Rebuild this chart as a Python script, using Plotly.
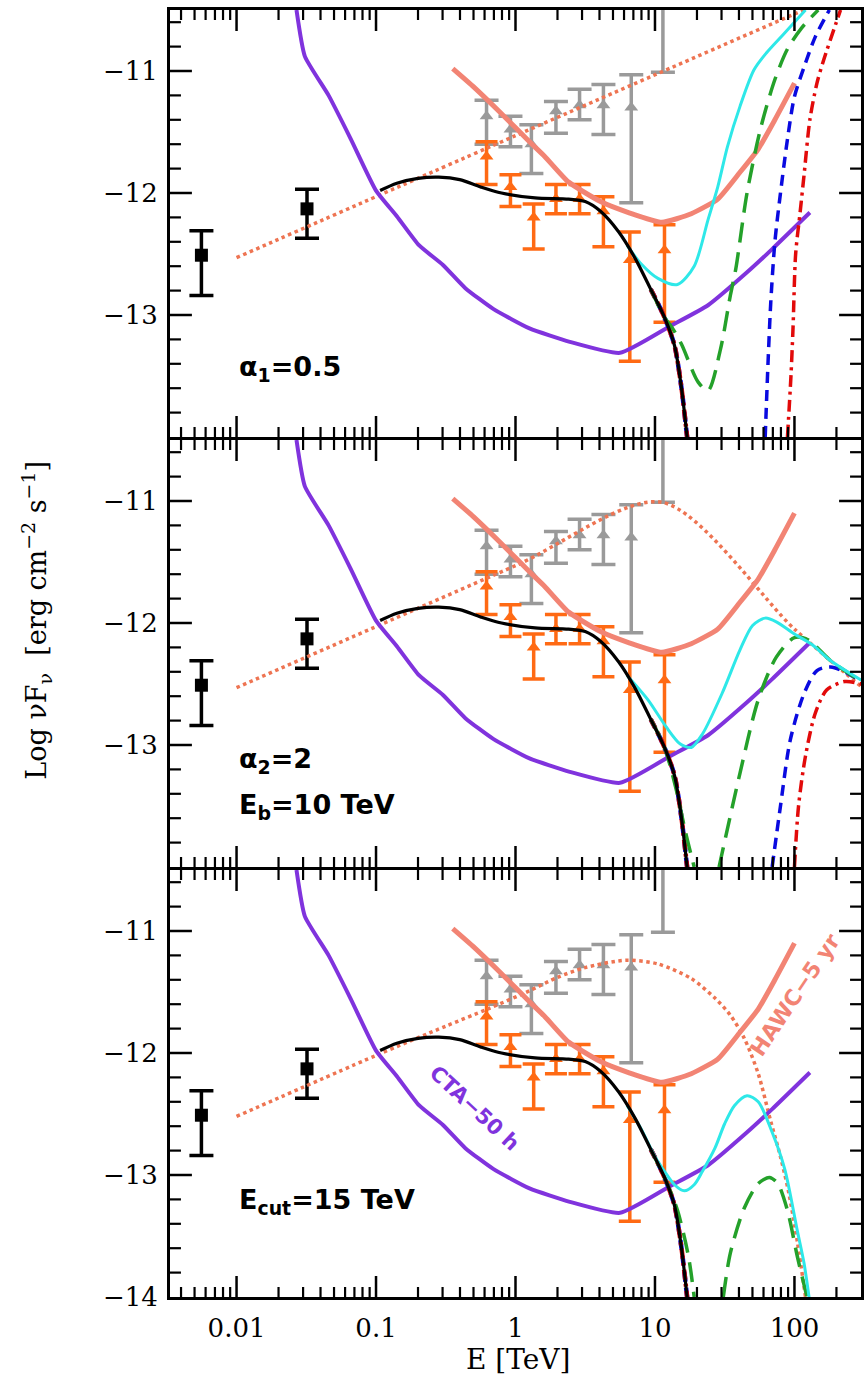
import math
import plotly.graph_objects as go
from plotly.subplots import make_subplots

# ---------------- data (E in TeV, values are log10 nuFnu) ----------------
xray_E = [0.0056, 0.032]
xray_y = [-12.51, -12.13]
xray_top = [-12.31, -11.97]
xray_bot = [-12.84, -12.37]

gray_E = [0.62, 0.92, 1.30, 1.95, 2.88, 4.27, 6.76, 11.4]
gray_y = [-11.37, -11.48, -11.60, -11.33, -11.28, -11.28, -11.30, -10.30]
gray_top = [-11.24, -11.37, -11.44, -11.25, -11.15, -11.11, -11.03, -10.20]
gray_bot = [-11.60, -11.62, -11.84, -11.51, -11.40, -11.52, -12.08, -11.01]

orange_E = [0.62, 0.92, 1.35, 1.95, 2.88, 4.27, 6.6, 11.7]
orange_y = [-11.70, -11.95, -12.20, -12.05, -12.05, -12.15, -12.55, -12.47]
orange_top = [-11.58, -11.85, -12.09, -11.93, -11.93, -12.03, -12.32, -12.26]
orange_bot = [-11.93, -12.11, -12.46, -12.17, -12.17, -12.44, -13.38, -13.06]

cta_E = [0.0269, 0.0309, 0.0457, 0.0661, 0.100, 0.141, 0.204, 0.302, 0.437, 0.692,
         1.26, 2.45, 5.62, 12.9, 24.0, 45.7, 69.2, 129]
cta_y = [-10.50, -10.88, -11.20, -11.56, -11.98, -12.19, -12.43, -12.59, -12.78, -12.95,
         -13.11, -13.22, -13.31, -13.09, -12.92, -12.65, -12.46, -12.16]

hawc_E = [0.355, 0.501, 0.794, 1.26, 1.62, 2.40, 4.07, 6.46, 11.2, 18.2, 28.2, 40.7, 55.0, 72.4, 100]
hawc_y = [-10.98, -11.13, -11.35, -11.58, -11.70, -11.91, -12.07, -12.16, -12.24, -12.17,
          -12.05, -11.83, -11.64, -11.40, -11.10]

model_E = [0.107, 0.141, 0.200, 0.282, 0.398, 0.562, 0.794, 1.38, 2.40, 3.16, 4.07, 5.50,
           7.24, 9.33, 11.7, 13.8, 15.5, 17.0, 17.8]
model_y = [-11.98, -11.92, -11.88, -11.87, -11.89, -11.95, -12.00, -12.04, -12.05, -12.07,
           -12.15, -12.32, -12.54, -12.79, -13.02, -13.25, -13.60, -14.0, -14.2]

tail_E = [9.33, 11.7, 13.8, 15.5, 17.0, 17.8]
tail_y = [-12.79, -13.02, -13.25, -13.60, -14.0, -14.2]

# injected spectra (dotted)
inj1_E = [0.01, 1.0, 140]
inj1_y = [-12.53, -11.53, -10.46]
inj2_E = [0.01, 1.0, 11.2, 100, 300]
inj2_y = [-12.53, -11.53, -11.01, -12.05, -12.52]
inj3_E = [0.01, 0.1, 0.316, 0.631, 1.26, 2.0, 3.16, 6.17, 10.5, 18.2, 26.9, 34.7, 43.7,
          55.0, 67.6, 79.4, 91.2, 105, 120]
inj3_y = [-12.52, -12.02, -11.78, -11.64, -11.49, -11.38, -11.30, -11.24, -11.27, -11.39,
          -11.55, -11.69, -11.88, -12.17, -12.56, -12.85, -13.15, -13.55, -14.0]

# panel 1 (alpha1 = 0.5)
cyan1_E = [6.31, 7.94, 10.5, 14.5, 19.1, 24.0, 28.2, 33.1, 40.7, 51.3, 63.1, 83.2, 120]
cyan1_y = [-12.43, -12.58, -12.70, -12.75, -12.60, -12.22, -11.95, -11.62, -11.29, -10.99,
           -10.85, -10.70, -10.50]
green1_E = [9.33, 11.7, 13.2, 15.5, 20.4, 24.0, 29.5, 34.7, 38.0, 45.7, 57.5, 72.4, 89.1, 112, 148]
green1_y = [-12.79, -13.02, -13.10, -13.24, -13.55, -13.62, -13.28, -12.84, -12.62, -12.00,
            -11.46, -11.07, -10.82, -10.65, -10.50]
blue1_E = [61.7, 64.6, 67.6, 72.4, 79.4, 89.1, 100, 117, 141, 178]
blue1_y = [-14.0, -13.4, -12.9, -12.4, -12.0, -11.56, -11.21, -10.97, -10.72, -10.50]
red1_E = [89.1, 94.4, 97.7, 102, 110, 117, 129, 145, 162, 214]
red1_y = [-14.0, -13.5, -13.1, -12.5, -12.15, -11.86, -11.40, -11.10, -10.91, -10.50]

# panel 2 (alpha2 = 2, Eb = 10 TeV)
cyan2_E = [6.31, 8.91, 12.0, 15.1, 18.2, 21.9, 30.2, 40.7, 50.1, 61.7, 74.1, 100, 135, 182, 302]
cyan2_y = [-12.43, -12.63, -12.85, -12.99, -13.02, -12.91, -12.58, -12.22, -12.02, -11.96,
           -11.99, -12.09, -12.18, -12.31, -12.47]
green2_E = [9.33, 11.7, 14.1, 16.6, 19.1, None, 28.8, 40.7, 55.0, 74.1, 100, 126, 182, 302]
green2_y = [-12.79, -13.02, -13.35, -13.72, -14.0, None, -14.0, -13.23, -12.63, -12.28,
            -12.12, -12.14, -12.31, -12.48]
blue2_E = [69.2, 79.4, 93.3, 117, 145, 182, 229, 302]
blue2_y = [-14.0, -13.5, -12.96, -12.58, -12.39, -12.36, -12.40, -12.48]
red2_E = [100, 107, 120, 141, 170, 229, 302]
red2_y = [-14.0, -13.5, -13.09, -12.74, -12.55, -12.48, -12.50]

# panel 3 (Ecut = 15 TeV)
cyan3_E = [6.31, 7.94, 10.0, 11.7, 13.8, 16.2, 19.1, 21.9, 26.9, 31.6, 37.2, 45.7, 55.0,
           69.2, 85.1, 105, 117, 129]
cyan3_y = [-12.43, -12.62, -12.85, -12.97, -13.08, -13.13, -13.08, -12.97, -12.78, -12.58,
           -12.43, -12.35, -12.40, -12.65, -12.95, -13.46, -13.72, -14.05]
green3_E = [9.33, 11.7, 14.5, 17.4, 19.1, None, 30.9, 34.7, 43.7, 55.0, 66.1, 75.9, 89.1, 105, 123]
green3_y = [-12.79, -13.02, -13.29, -13.67, -14.0, None, -14.0, -13.64, -13.27, -13.07,
            -13.02, -13.07, -13.29, -13.67, -14.0]

x_major = [0.01, 0.1, 1, 10, 100]
x_major_text = ["0.01", "0.1", "1", "10", "100"]
y_major = [-11, -12, -13]

# ---------------- styles ----------------
GRAY = "#9a9a9a"
ORANGE = "#ff6a14"
PURPLE = "#8033dd"
SALMON = "#f28474"
DOTC = "#ee7452"
CYAN = "#2ee8e8"
GREEN = "#24a12a"
BLUE = "#0a0ae0"
RED = "#e20a0a"
LW = 3
W, H = 866, 1378
ML, MR, MT, MB = 170, 2, 10, 81
PW, PH = W - ML - MR, H - MT - MB
XR = [-2.4771, 2.4771]
YR = [-14, -10.5]

fig = make_subplots(rows=3, cols=1, shared_xaxes=True, vertical_spacing=LW / PH)


def errs(c, t, b):
    up = [round(ti - ci, 3) for ti, ci in zip(t, c)]
    dn = [round(ci - bi, 3) for ci, bi in zip(c, b)]
    return up, dn


def line(row, x, y, color, width=3, dash="solid", shape="spline", smoothing=0.8):
    fig.add_trace(go.Scatter(x=x, y=y, mode="lines", line=dict(color=color, width=width, dash=dash,
                                                               shape=shape, smoothing=smoothing),
                             connectgaps=False, showlegend=False, hoverinfo="skip"), row=row, col=1)


panel_curves = {
    1: dict(inj=(inj1_E, inj1_y), cyan=(cyan1_E, cyan1_y), green=(green1_E, green1_y),
            blue=(blue1_E, blue1_y), red=(red1_E, red1_y)),
    2: dict(inj=(inj2_E, inj2_y), cyan=(cyan2_E, cyan2_y), green=(green2_E, green2_y),
            blue=(blue2_E, blue2_y), red=(red2_E, red2_y)),
    3: dict(inj=(inj3_E, inj3_y), cyan=(cyan3_E, cyan3_y), green=(green3_E, green3_y),
            blue=None, red=None),
}

for row in (1, 2, 3):
    pc = panel_curves[row]
    up, dn = errs(gray_y, gray_top, gray_bot)
    fig.add_trace(go.Scatter(x=gray_E, y=gray_y, mode="markers",
                             marker=dict(symbol="triangle-up", size=12, color=GRAY),
                             error_y=dict(type="data", symmetric=False, array=up, arrayminus=dn,
                                          color=GRAY, thickness=3.5, width=12),
                             showlegend=False), row=row, col=1)
    up, dn = errs(orange_y, orange_top, orange_bot)
    fig.add_trace(go.Scatter(x=orange_E, y=orange_y, mode="markers",
                             marker=dict(symbol="triangle-up", size=12, color=ORANGE),
                             error_y=dict(type="data", symmetric=False, array=up, arrayminus=dn,
                                          color=ORANGE, thickness=3.5, width=11),
                             showlegend=False), row=row, col=1)
    up, dn = errs(xray_y, xray_top, xray_bot)
    fig.add_trace(go.Scatter(x=xray_E, y=xray_y, mode="markers",
                             marker=dict(symbol="square", size=13, color="black"),
                             error_y=dict(type="data", symmetric=False, array=up, arrayminus=dn,
                                          color="black", thickness=3.5, width=12),
                             showlegend=False), row=row, col=1)
    line(row, pc["inj"][0], pc["inj"][1], DOTC, width=3.5, dash="dot")
    line(row, hawc_E, hawc_y, SALMON, width=5, smoothing=0.5)
    line(row, cta_E, cta_y, PURPLE, width=4, smoothing=0.5)
    line(row, tail_E, tail_y, BLUE, width=4.5, dash="10px,6px")
    line(row, tail_E, tail_y, RED, width=4.5, dash="10px,4px,3px,4px")
    if pc["blue"] is not None:
        line(row, pc["blue"][0], pc["blue"][1], BLUE, width=3.5, dash="11px,7px")
    if pc["red"] is not None:
        line(row, pc["red"][0], pc["red"][1], RED, width=3.5, dash="12px,5px,3px,5px")
    line(row, pc["green"][0], pc["green"][1], GREEN, width=3.5, dash="20px,10px")
    line(row, pc["cyan"][0], pc["cyan"][1], CYAN, width=3)
    line(row, model_E, model_y, "black", width=3.2)

# ---------------- axes ----------------
fig.update_xaxes(type="log", range=XR, showline=True, linecolor="black",
                 linewidth=LW, mirror=True, ticks="", tickmode="array", tickvals=x_major,
                 ticktext=x_major_text, showgrid=False, zeroline=False,
                 tickfont=dict(family="DejaVu Serif", size=26, color="black"),
                 ticklabelstandoff=6)
fig.update_yaxes(range=YR, showline=True, linecolor="black", linewidth=LW,
                 mirror=True, ticks="", tickmode="array", tickvals=y_major,
                 ticktext=["\u221211", "\u221212", "\u221213"], showgrid=False, zeroline=False,
                 tickfont=dict(family="DejaVu Serif", size=26, color="black"),
                 ticklabelstandoff=4)
fig.update_yaxes(tickvals=y_major + [-14],
                 ticktext=["\u221211", "\u221212", "\u221213", "\u221214"], row=3, col=1)

# inside tick marks on all four sides of every panel (positions follow the axis scales)
minor_x = []
for dec in [0.001, 0.01, 0.1, 1, 10, 100]:
    for m in range(2, 10):
        v = round(m * dec, 6)
        if 0.00334 <= v <= 299:
            minor_x.append(v)
minor_y = [round(-14 + 0.2 * i, 2) for i in range(1, 18)]
minor_y = [v for v in minor_y if abs(v - round(v)) > 1e-6]


def xfrac(v):
    return (math.log10(v) - XR[0]) / (XR[1] - XR[0])


shapes = []
for row in (1, 2, 3):
    key = "yaxis" if row == 1 else "yaxis%d" % row
    d0, d1 = fig.layout[key].domain
    for vals, L, w in ((x_major, 21, 2.5), (minor_x, 10, 2.2)):
        for v in vals:
            px = xfrac(v)
            shapes.append(dict(type="line", xref="paper", yref="paper", x0=px, x1=px,
                               y0=d0, y1=d0 + L / PH, line=dict(color="black", width=w)))
            shapes.append(dict(type="line", xref="paper", yref="paper", x0=px, x1=px,
                               y0=d1, y1=d1 - L / PH, line=dict(color="black", width=w)))
    for vals, L, w in ((y_major, 22, 2.5), (minor_y, 11, 2.2)):
        for v in vals:
            py = d0 + (v - YR[0]) / (YR[1] - YR[0]) * (d1 - d0)
            shapes.append(dict(type="line", xref="paper", yref="paper", y0=py, y1=py,
                               x0=0, x1=L / PW, line=dict(color="black", width=w)))
            shapes.append(dict(type="line", xref="paper", yref="paper", y0=py, y1=py,
                               x0=1, x1=1 - L / PW, line=dict(color="black", width=w)))
fig.update_layout(shapes=shapes)

sans = dict(family="DejaVu Sans", size=27, color="black")
anns = [
    dict(text="<b>\u03b1<sub>1</sub>=0.5</b>", x=-2.0, y=-13.44, xref="x", yref="y", font=sans),
    dict(text="<b>\u03b1<sub>2</sub>=2</b>", x=-2.0, y=-13.13, xref="x2", yref="y2", font=sans),
    dict(text="<b>E<sub>b</sub>=10 TeV</b>", x=-2.0, y=-13.50, xref="x2", yref="y2", font=sans),
    dict(text="<b>E<sub>cut</sub>=15 TeV</b>", x=-2.0, y=-13.22, xref="x3", yref="y3", font=sans),
]
for a in anns:
    fig.add_annotation(showarrow=False, xanchor="left", yanchor="middle", **a)

fig.add_annotation(text="<b>CTA\u221250 h</b>", x=-0.295, y=-12.45, xref="x3", yref="y3",
                   showarrow=False, textangle=43,
                   font=dict(family="DejaVu Sans", size=21, color=PURPLE))
fig.add_annotation(text="<b>HAWC\u22125 yr</b>", x=2.007, y=-11.52, xref="x3", yref="y3",
                   showarrow=False, textangle=-56,
                   font=dict(family="DejaVu Sans", size=22, color=SALMON))

fig.add_annotation(text="Log \u03bdF<sub>\u03bd</sub>\u00a0\u00a0[erg cm<sup>\u22122</sup> s<sup>\u22121</sup>]",
                   xref="paper", yref="paper", x=-0.1945, y=0.526, showarrow=False,
                   textangle=-90, xanchor="center", yanchor="middle",
                   font=dict(family="DejaVu Serif", size=27, color="black"))
fig.add_annotation(text="E [TeV]", xref="paper", yref="paper", x=0.503, y=-62 / PH,
                   showarrow=False, xanchor="center", yanchor="middle",
                   font=dict(family="DejaVu Serif", size=28, color="black"))

fig.update_layout(width=W, height=H, margin=dict(l=ML, r=MR, t=MT, b=MB),
                  plot_bgcolor="white", paper_bgcolor="white", showlegend=False)

fig.write_html("out.html")
